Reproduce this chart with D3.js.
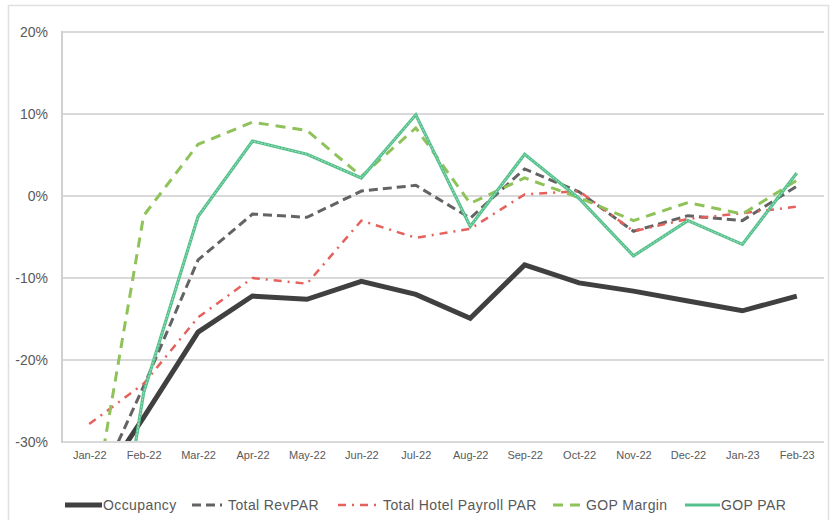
<!DOCTYPE html>
<html>
<head>
<meta charset="utf-8">
<script src="https://cdn.jsdelivr.net/npm/d3@7"></script>
<style>
  html, body { margin: 0; padding: 0; background: #fff; }
  svg { display: block; font-family: "Liberation Sans", Arial, sans-serif; }
</style>
</head>
<body>
<svg id="chart" width="830" height="520"></svg>
<script>
// Monthly change vs. baseline, in percent
const months = ["Jan-22","Feb-22","Mar-22","Apr-22","May-22","Jun-22","Jul-22",
                "Aug-22","Sep-22","Oct-22","Nov-22","Dec-22","Jan-23","Feb-23"];
const occupancy   = [-37, -27, -16.6, -12.2, -12.6, -10.4, -12.0, -14.9, -8.4, -10.6, -11.6, -12.8, -14.0, -12.2];
const totalRevPAR = [-37.7, -23.2, -7.8, -2.2, -2.6, 0.6, 1.3, -2.7, 3.3, 0.5, -4.3, -2.4, -3.0, 1.2];
const payrollPAR  = [-27.8, -22.9, -14.8, -10.0, -10.7, -3.0, -5.1, -4.0, 0.2, 0.6, -4.3, -2.8, -2.1, -1.3];
const gopMargin   = [-41, -2.4, 6.3, 9.0, 8.0, 2.4, 8.3, -0.9, 2.2, -0.2, -3.0, -0.8, -2.2, 1.9];
const gopPAR      = [-65, -24, -2.5, 6.7, 5.1, 2.2, 9.9, -3.7, 5.1, -0.3, -7.3, -3.0, -5.9, 2.8];
const yTicks = [-30, -20, -10, 0, 10, 20];

const series = [
  { name: "Occupancy", values: occupancy, color: "#404040", width: 5, dash: null, legendLen: 37 },
  { name: "Total RevPAR", values: totalRevPAR, color: "#636363", width: 3, dash: "9,5", legendLen: 30 },
  { name: "Total Hotel Payroll PAR", values: payrollPAR, color: "#e5625c", width: 2.5, dash: "8,6,2,6", legendLen: 39 },
  { name: "GOP Margin", values: gopMargin, color: "#8fc35a", width: 3, dash: "10,7", legendLen: 27 },
  { name: "GOP PAR", values: gopPAR, color: "#55c08b", width: 3.2, dash: null, legendLen: 35, inner: "#a9e2c4" }
];

const svg = d3.select("#chart");
const plot = { left: 62, right: 824, top: 32, bottom: 442 };

// Outer chart frame
svg.append("rect")
  .attr("x", 8.5).attr("y", 5.5).attr("width", 820).attr("height", 530)
  .attr("fill", "#fff").attr("stroke", "#e0e0e0").attr("stroke-width", 1.5);

const x = d3.scalePoint().domain(months).range([plot.left, plot.right]).padding(0.5);
const y = d3.scaleLinear().domain([-30, 20]).range([plot.bottom, plot.top]);

// Horizontal gridlines
svg.append("g").selectAll("line").data(yTicks).join("line")
  .attr("x1", plot.left).attr("x2", plot.right)
  .attr("y1", d => y(d)).attr("y2", d => y(d))
  .attr("stroke", "#d9d9d9").attr("stroke-width", 2);

// Left axis line
svg.append("line")
  .attr("x1", plot.left).attr("x2", plot.left)
  .attr("y1", plot.top - 1).attr("y2", plot.bottom + 1)
  .attr("stroke", "#d0d0d0").attr("stroke-width", 2);

// Y axis labels
const yAxis = d3.axisLeft(y).tickValues(yTicks).tickFormat(d => d + "%").tickSize(0).tickPadding(14);
const gy = svg.append("g").attr("transform", `translate(${plot.left},0)`).call(yAxis);
gy.select(".domain").remove();
gy.selectAll("text").attr("fill", "#595959").attr("font-size", 14)
  .attr("font-family", "'Liberation Sans', Arial, sans-serif");

// X axis labels
const xAxis = d3.axisBottom(x).tickSize(0).tickPadding(9);
const gx = svg.append("g").attr("transform", `translate(0,${plot.bottom})`).call(xAxis);
gx.select(".domain").remove();
gx.selectAll("text").attr("fill", "#595959").attr("font-size", 11)
  .attr("font-family", "'Liberation Sans', Arial, sans-serif");

// Clip lines to the plotting area
svg.append("defs").append("clipPath").attr("id", "plotClip")
  .append("rect").attr("x", plot.left).attr("y", plot.top - 4)
  .attr("width", plot.right - plot.left + 6).attr("height", plot.bottom - plot.top + 3);

const linesG = svg.append("g").attr("clip-path", "url(#plotClip)");
series.forEach(s => {
  const line = d3.line().x((d, i) => x(months[i])).y(d => y(d));
  const p = linesG.append("path").datum(s.values)
    .attr("d", line).attr("fill", "none")
    .attr("stroke", s.color).attr("stroke-width", s.width)
    .attr("stroke-linejoin", "miter");
  if (s.dash) p.attr("stroke-dasharray", s.dash);
  if (s.inner) {
    linesG.append("path").datum(s.values).attr("d", line).attr("fill", "none")
      .attr("stroke", s.inner).attr("stroke-width", 1).attr("stroke-dasharray", "2,1.5");
  }
});

// Legend
const legendX = [65, 192, 338, 553, 685];
const legendY = 505;
const lg = svg.append("g");
series.forEach((s, i) => {
  const g = lg.append("g").attr("transform", `translate(${legendX[i]},${legendY})`);
  const l = g.append("line").attr("x1", 0).attr("x2", s.legendLen).attr("y1", 0).attr("y2", 0)
    .attr("stroke", s.color).attr("stroke-width", s.width);
  if (s.dash) l.attr("stroke-dasharray", s.dash);
  g.append("text").attr("x", s.legendLen + (s.dash ? 6 : 1)).attr("y", 5)
    .attr("font-size", 14).attr("letter-spacing", 0.4).attr("fill", "#595959")
    .text(s.name);
});
</script>
</body>
</html>
